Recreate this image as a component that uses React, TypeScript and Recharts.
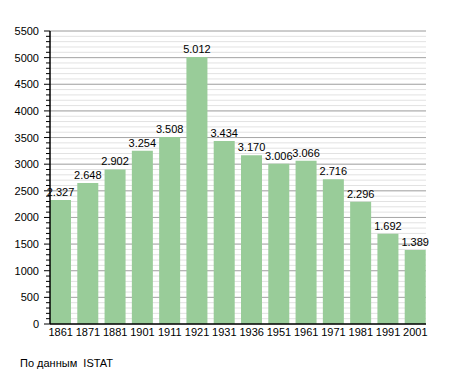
import React from "react";
import { BarChart, Bar, XAxis, YAxis, CartesianGrid, LabelList } from "recharts";

const years = ["1861", "1871", "1881", "1901", "1911", "1921", "1931", "1936", "1951", "1961", "1971", "1981", "1991", "2001"];
const population = [2327, 2648, 2902, 3254, 3508, 5012, 3434, 3170, 3006, 3066, 2716, 2296, 1692, 1389];
const minorTicks = Array.from({ length: 56 }, (_, i) => i * 100);
const majorTicks = [0, 500, 1000, 1500, 2000, 2500, 3000, 3500, 4000, 4500, 5000, 5500];
const yMax = 5500;

const data = years.map((y, i) => ({ year: y, value: population[i] }));

const fmt = (v: number) => {
  const s = String(v);
  return s.length > 3 ? s.slice(0, s.length - 3) + "." + s.slice(-3) : s;
};

const font = "'Liberation Sans', Arial, sans-serif";

const YTick = (props: any) => {
  const { y, payload } = props;
  const v = payload.value;
  const major = v % 500 === 0;
  return (
    <g>
      <line x1={50 - (major ? 6 : 4)} x2={50} y1={y} y2={y} stroke="#000" strokeWidth={1} />
      {major && (
        <text x={39} y={y + 4} textAnchor="end" fontSize={11} fontFamily={font} fill="#000">
          {v}
        </text>
      )}
    </g>
  );
};

const XTick = (props: any) => {
  const { x, payload } = props;
  return (
    <text x={x} y={336} textAnchor="middle" fontSize={11} fontFamily={font} fill="#000">
      {payload.value}
    </text>
  );
};

const majorGen = (p: any) => {
  const off = p.offset || {};
  const top = off.top ?? 31;
  const h = off.height ?? 293;
  return majorTicks.filter((t) => t > 0).map((t) => top + h * (1 - t / yMax));
};

export default function App() {
  return (
    <div style={{ position: "absolute", left: 0, top: 0, width: 455, height: 373, background: "#fff" }}>
      <BarChart
        width={455}
        height={373}
        data={data}
        margin={{ top: 31, right: 29, bottom: 19, left: 0 }}
        barSize={21}
      >
        <CartesianGrid vertical={false} stroke="#e2e2e2" />
        <CartesianGrid vertical={false} stroke="#a8a8a8" horizontalCoordinatesGenerator={majorGen} />
        <XAxis
          dataKey="year"
          height={30}
          padding={{ left: -3, right: -3 }}
          tickLine={false}
          axisLine={{ stroke: "#000", strokeWidth: 1.5 }}
          tick={<XTick />}
          interval={0}
        />
        <YAxis
          width={50}
          domain={[0, yMax]}
          ticks={minorTicks}
          interval={0}
          tickLine={false}
          axisLine={{ stroke: "#000", strokeWidth: 1.5 }}
          tick={<YTick />}
        />
        <Bar dataKey="value" fill="#99cc99" isAnimationActive={false}>
          <LabelList
            dataKey="value"
            position="top"
            offset={4}
            formatter={(v: any) => fmt(Number(v))}
            style={{ fontSize: 11, fontFamily: font, fill: "#000" }}
          />
        </Bar>
      </BarChart>
      <div
        style={{
          position: "absolute",
          left: 20,
          top: 357,
          fontSize: 11,
          fontFamily: font,
          color: "#000",
          whiteSpace: "pre",
        }}
      >
        {"По данным  ISTAT"}
      </div>
    </div>
  );
}
